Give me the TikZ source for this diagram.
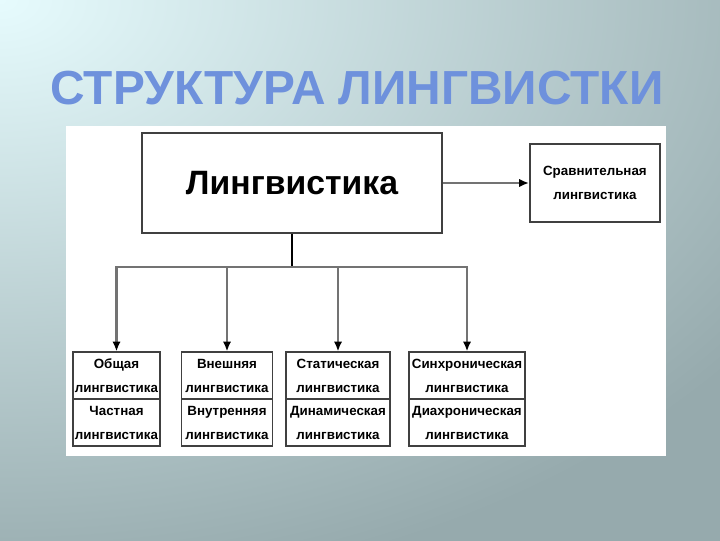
\documentclass[tikz,border=0pt]{standalone}
\usepackage{fontspec}
\setmainfont{Liberation Sans}
\usetikzlibrary{arrows.meta,positioning}
\definecolor{slidebg}{RGB}{150,170,173}
\definecolor{slidelight}{RGB}{230,251,253}
\definecolor{titleblue}{RGB}{110,145,220}

\begin{document}
\begin{tikzpicture}[x=0.025cm, y=-0.025cm,
  box/.style={draw=black!75, line width=1.3pt, fill=white, inner sep=0pt, align=center,
    font=\fontsize{9.5}{17}\selectfont\bfseries},
  half/.style={box, minimum height=1.175cm},
  link/.style={draw=black!55, line width=1.6pt},
  tip/.style={-{Latex[length=7pt,width=6pt,black]}}]
  % slide background
  \useasboundingbox (0,0) rectangle (720,540);
  \fill[slidebg] (-10,-10) rectangle (730,550);
  \begin{scope}
    \clip (-10,-10) rectangle (730,550);
    \shade[inner color=slidelight, outer color=slidebg] (0,0) ellipse [x radius=23cm, y radius=15cm];
  \end{scope}
  \node[font=\fontsize{34}{36}\selectfont\bfseries, text=titleblue] (title) at (357,88) {СТРУКТУРА ЛИНГВИСТКИ};
  \fill[white] (66,126) rectangle (666,456);

  % top level
  \node[box, minimum width=7.5cm, minimum height=2.5cm,
    font=\fontsize{24}{28}\selectfont\bfseries] (ling) at (292,183) {Лингвистика};
  \node[box, minimum width=3.25cm, minimum height=1.95cm, right=2.15cm of ling] (compar) {Сравнительная\\лингвистика};

  % branches
  \node[half, minimum width=2.175cm] (gen) at (116.5,375.8) {Общая\\лингвистика};
  \node[half, minimum width=2.175cm, below=-1.3pt of gen] (part) {Частная\\лингвистика};
  \node[half, minimum width=2.275cm] (ext) at (227,375.8) {Внешняя\\лингвистика};
  \node[half, minimum width=2.275cm, below=-1.3pt of ext] (int) {Внутренняя\\лингвистика};
  \node[half, minimum width=2.6cm] (stat) at (338,375.8) {Статическая\\лингвистика};
  \node[half, minimum width=2.6cm, below=-1.3pt of stat] (dyn) {Динамическая\\лингвистика};
  \node[half, minimum width=2.9cm] (sync) at (467,375.8) {Синхроническая\\лингвистика};
  \node[half, minimum width=2.9cm, below=-1.3pt of sync] (diac) {Диахроническая\\лингвистика};

  \coordinate (hub) at (292,267);
  \draw[black, line width=1.6pt] (ling.south) -- (hub);
  \draw[link, tip] (hub) -| (gen.north);
  \draw[link, tip] (hub) -| (ext.north);
  \draw[link, tip] (hub) -| (stat.north);
  \draw[link, tip] (hub) -| (sync.north);
  \draw[link, tip] (ling.east) -- (compar.west);
\end{tikzpicture}
\end{document}
